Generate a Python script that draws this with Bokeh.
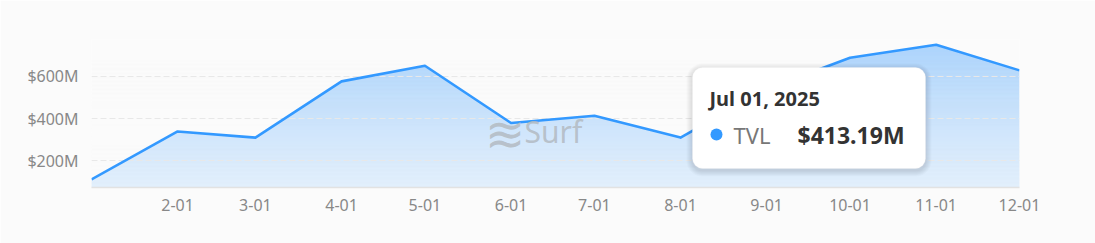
import numpy as np
import pandas as pd
from bokeh.plotting import figure
from bokeh.models import Range1d, FixedTicker, Label, BoxAnnotation
from bokeh.embed import file_html
from bokeh.resources import INLINE

# ---------------- data ----------------
dates = ["2025-01-01", "2025-02-01", "2025-03-01", "2025-04-01", "2025-05-01", "2025-06-01",
         "2025-07-01", "2025-08-01", "2025-09-01", "2025-10-01", "2025-11-01", "2025-12-01"]
tvl_m = [112, 339, 310, 576, 650, 379, 413.19, 310, 540, 688, 749, 628]   # $ millions
x_tick_dates = dates[1:]
x_tick_labels = ["2-01", "3-01", "4-01", "5-01", "6-01", "7-01", "8-01", "9-01", "10-01", "11-01", "12-01"]
y_ticks = [200, 400, 600]
y_tick_labels = ["$200M", "$400M", "$600M"]
series_name = "TVL"
tooltip_date = "Jul 01, 2025"
tooltip_value = "$413.19M"
watermark = "Surf"

# ---------------- styling ----------------
BG = "#fbfbfb"
BLUE = "#3399ff"
FONT = "Noto Sans"
W, H = 1095, 243
ML, MR, MT, MB = 91, 76, 39, 56

t0 = pd.Timestamp(dates[0])
xs = [(pd.Timestamp(d) - t0).days for d in dates]
tick_x = [(pd.Timestamp(d) - t0).days for d in x_tick_dates]
x0, x1 = xs[0], xs[-1]
y0, y1 = 74, 774

p = figure(width=W, height=H, output_backend="svg", toolbar_location=None,
           x_range=Range1d(x0, x1), y_range=Range1d(y0, y1),
           min_border_left=ML, min_border_right=MR, min_border_top=MT, min_border_bottom=MB,
           background_fill_color=BG, border_fill_color=BG, outline_line_color=None)


def dx(px):
    return x0 + (px - ML) / (W - ML - MR) * (x1 - x0)


def dy(py):
    return y1 - (py - MT) / (H - MT - MB) * (y1 - y0)


# area: solid tint under the line, then background-coloured bands fading it toward the bottom
A_TOP, A_BOT = 0.40, 0.05
p.varea(x=xs, y1=[y0] * len(xs), y2=tvl_m, fill_color=BLUE, fill_alpha=A_TOP, level="image")
NB = H - MT - MB
edges = np.linspace(y1, y0, NB + 1)
a = np.linspace(A_TOP, A_BOT, NB)
ov_alpha = 1 - a / A_TOP
p.quad(left=x0 - 50, right=x1 + 50, top=edges[:-1], bottom=edges[1:],
       fill_color=BG, fill_alpha=ov_alpha, line_color=None, level="image")

p.line(xs, tvl_m, line_color=BLUE, line_width=2.6, line_join="round")

# grid
p.xgrid.visible = False
p.ygrid.ticker = FixedTicker(ticks=y_ticks + [y1])
p.ygrid.grid_line_color = "#e8e8e8"
p.ygrid.grid_line_dash = "6 3"
p.ygrid.grid_line_width = 1

# y axis
p.yaxis.ticker = FixedTicker(ticks=y_ticks + [y1])
ov = {t: l for t, l in zip(y_ticks, y_tick_labels)}
ov[y1] = ""
p.yaxis.major_label_overrides = ov
p.yaxis.axis_line_color = None
p.yaxis.major_tick_line_color = None
p.yaxis.minor_tick_line_color = None
p.yaxis.major_tick_out = 0
p.yaxis.major_tick_in = 0
p.yaxis.major_label_standoff = 13
p.yaxis.major_label_text_color = "#888888"
p.yaxis.major_label_text_font = FONT
p.yaxis.major_label_text_font_size = "16px"

# x axis
p.xaxis.ticker = FixedTicker(ticks=tick_x)
p.xaxis.major_label_overrides = {t: l for t, l in zip(tick_x, x_tick_labels)}
p.xaxis.axis_line_color = "#e2e2e2"
p.xaxis.axis_line_width = 1.5
p.xaxis.major_tick_line_color = None
p.xaxis.minor_tick_line_color = None
p.xaxis.major_tick_out = 0
p.xaxis.major_tick_in = 0
p.xaxis.major_label_standoff = 11
p.xaxis.major_label_text_color = "#888888"
p.xaxis.major_label_text_font = FONT
p.xaxis.major_label_text_font_size = "16px"

# watermark
p.add_layout(Label(x=dx(484), y=dy(132), text="≋", text_font=FONT, text_font_size="48px",
                   text_color="#b4bcc4", text_baseline="middle", text_alpha=0.9))
p.add_layout(Label(x=dx(524), y=dy(131), text=watermark, text_font=FONT, text_font_size="30px",
                   text_color="#b4bcc4", text_baseline="middle", text_alpha=0.9))

# tooltip (static)
TL, TR, TT, TB = 692, 925, 67, 168
for k in range(6, 0, -1):
    p.add_layout(BoxAnnotation(left=dx(TL - k), right=dx(TR + k), top=dy(TT - k + 2), bottom=dy(TB + k + 2),
                               fill_color="#000000", fill_alpha=0.018, line_color=None,
                               border_radius=10 + k))
p.add_layout(BoxAnnotation(left=dx(TL), right=dx(TR), top=dy(TT), bottom=dy(TB),
                           fill_color="#ffffff", fill_alpha=1.0, line_color="#eeeeee",
                           border_radius=10))
p.add_layout(Label(x=dx(709), y=dy(98), text=tooltip_date, text_font=FONT, text_font_size="20px",
                   text_font_style="bold", text_color="#333333", text_baseline="middle"))
p.add_layout(BoxAnnotation(left=dx(710), right=dx(722), top=dy(128), bottom=dy(140),
                           fill_color=BLUE, fill_alpha=1.0, line_color=None, border_radius=6))
p.add_layout(Label(x=dx(733), y=dy(134), text=series_name, text_font=FONT, text_font_size="22px",
                   text_color="#777777", text_baseline="middle"))
p.add_layout(Label(x=dx(797), y=dy(134), text=tooltip_value, text_font=FONT, text_font_size="23px",
                   text_font_style="bold", text_color="#333333", text_baseline="middle"))

# legend
p.add_layout(BoxAnnotation(left=dx(505), right=dx(523), top=dy(220), bottom=dy(238),
                           fill_color=BLUE, fill_alpha=1.0, line_color=None, border_radius=9))
p.add_layout(Label(x=dx(530), y=dy(229), text=series_name, text_font=FONT, text_font_size="18px",
                   text_color="#333333", text_baseline="middle"))

# card borders
for bx in (6, 1061):
    p.add_layout(BoxAnnotation(left=dx(bx), right=dx(bx + 1), top=dy(-5), bottom=dy(250),
                               fill_color="#ececec", fill_alpha=1.0, line_color=None))

open("out.html", "w").write(file_html(p, INLINE))
